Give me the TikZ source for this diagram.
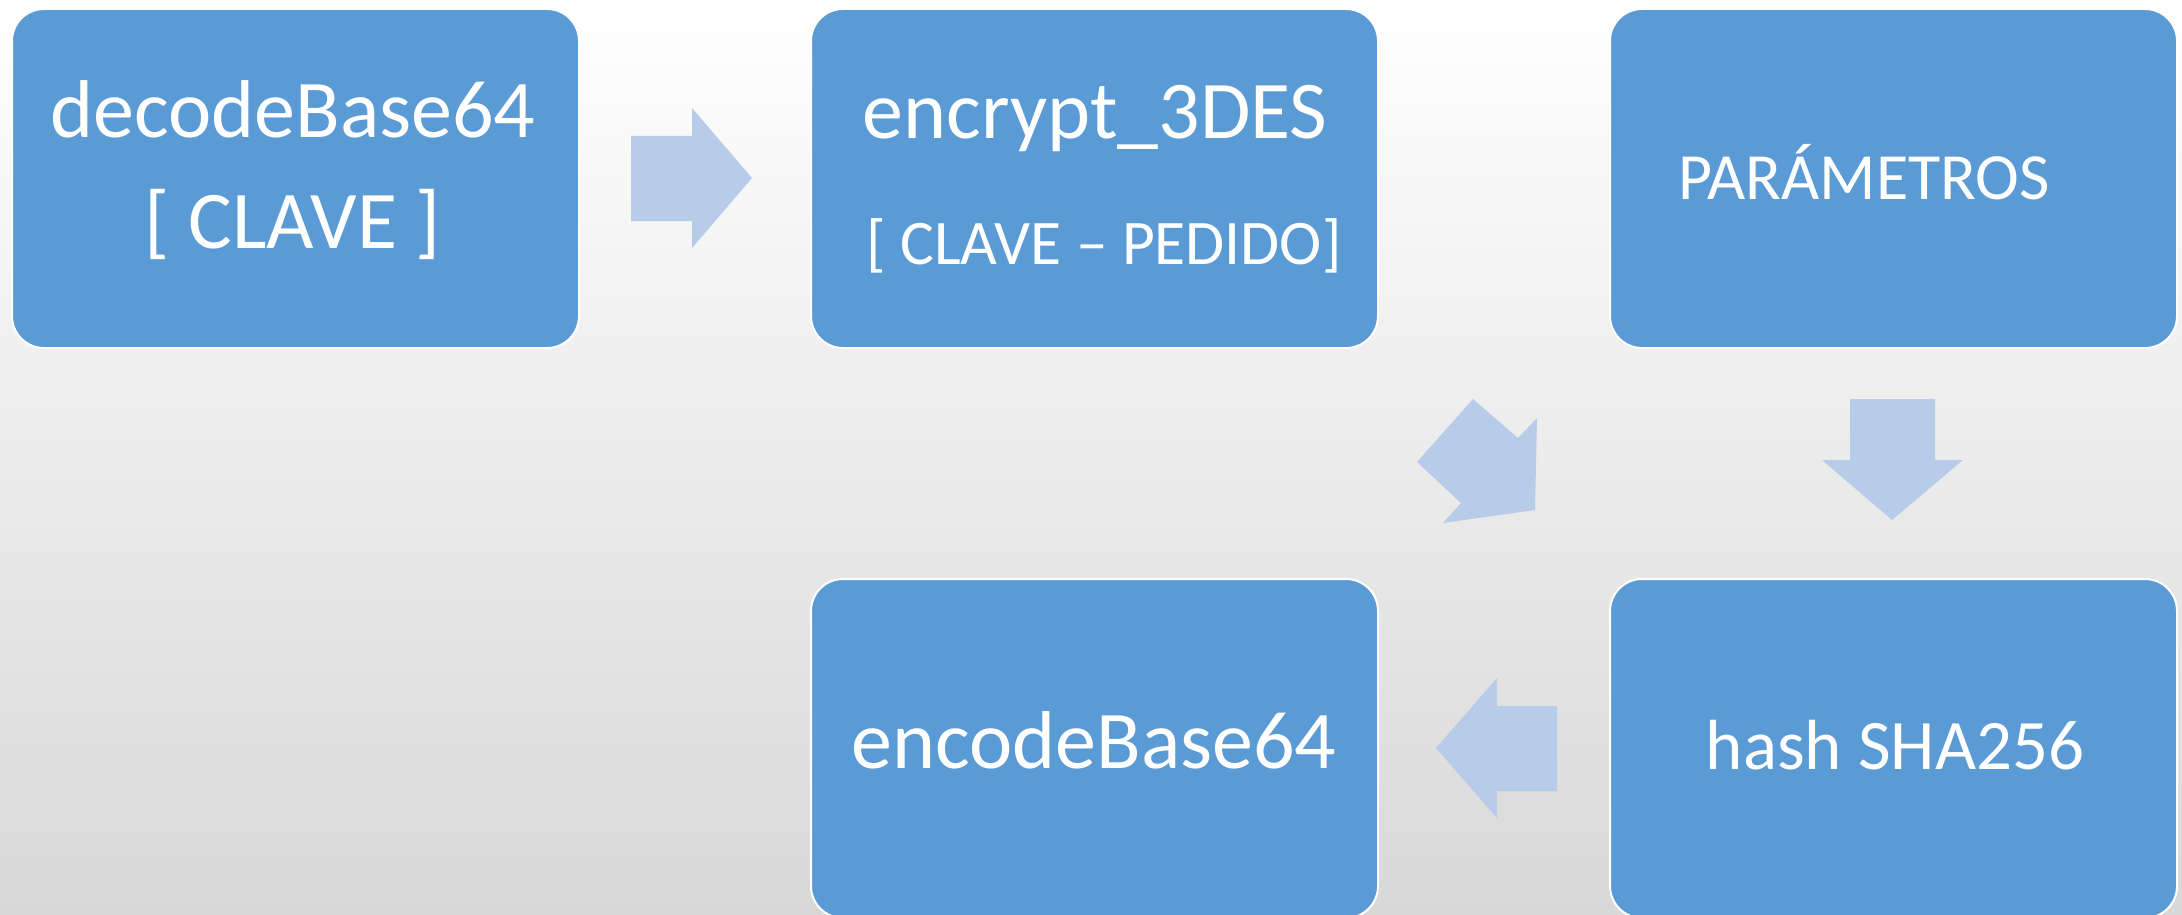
\documentclass[tikz,border=0pt]{standalone}
\usepackage{fontspec}
\setmainfont{Carlito}
\definecolor{boxblue}{HTML}{5B9BD5}
\definecolor{arrowblue}{HTML}{B7CCE8}
\definecolor{bgbottom}{HTML}{D8D8D8}
\begin{document}
\begin{tikzpicture}[x=1pt,y=-1pt,
  stepbox/.style={draw=white,line width=2pt,fill=boxblue,rounded corners=32pt,
    minimum width=567pt,minimum height=339pt,anchor=north west,inner sep=0pt},
  txt/.style={text=white,anchor=base,inner sep=0pt},
  huge/.style={txt,font=\fontsize{82}{96}\selectfont},
  mid/.style={txt,font=\fontsize{71}{84}\selectfont},
  norm/.style={txt,font=\fontsize{66}{80}\selectfont},
  small/.style={txt,font=\fontsize{63.5}{76}\selectfont},
  blockarrow/.style={fill=arrowblue,draw=none}]
\useasboundingbox (0,0) rectangle (2182,915);
\shade[top color=white,bottom color=bgbottom] (0,0) rectangle (2182,915);
% boxes
\node[stepbox] (b1) at (11,8) {};
\node[stepbox] (b2) at (810,8) {};
\node[stepbox] (b3) at (1609,8) {};
\node[stepbox] (b4) at (810,578) {};
\node[stepbox] (b5) at (1609,578) {};
% texts
\node[huge] (t1a) at (293,138) {decodeBase64};
\node[huge] (t1b) at (293,248) {[ CLAVE ]};
\node[huge] (t2a) at (1095,139) {encrypt\_3DES};
\node[small] (t2b) at (1104,264) {[ CLAVE -- PEDIDO]};
\node[norm] (t3) at (1864,199) {PARÁMETROS};
\node[huge] (t4) at (1094,768) {encodeBase64};
\node[mid] (t5) at (1895,769) {hash SHA256};
% block arrows
\fill[blockarrow] (631,136) -- (692,136) -- (692,108) -- (752,178) -- (692,248) -- (692,221) -- (631,221) -- cycle;
\fill[blockarrow] (1473,399) -- (1518,438) -- (1537,418) -- (1535,510) -- (1443,523) -- (1461,503) -- (1417,462) -- cycle;
\fill[blockarrow] (1850,399) -- (1935,399) -- (1935,460) -- (1963,460) -- (1892,520) -- (1822,460) -- (1850,460) -- cycle;
\fill[blockarrow] (1557,706) -- (1497,706) -- (1497,678) -- (1436,748) -- (1497,818) -- (1497,791) -- (1557,791) -- cycle;
\end{tikzpicture}
\end{document}
